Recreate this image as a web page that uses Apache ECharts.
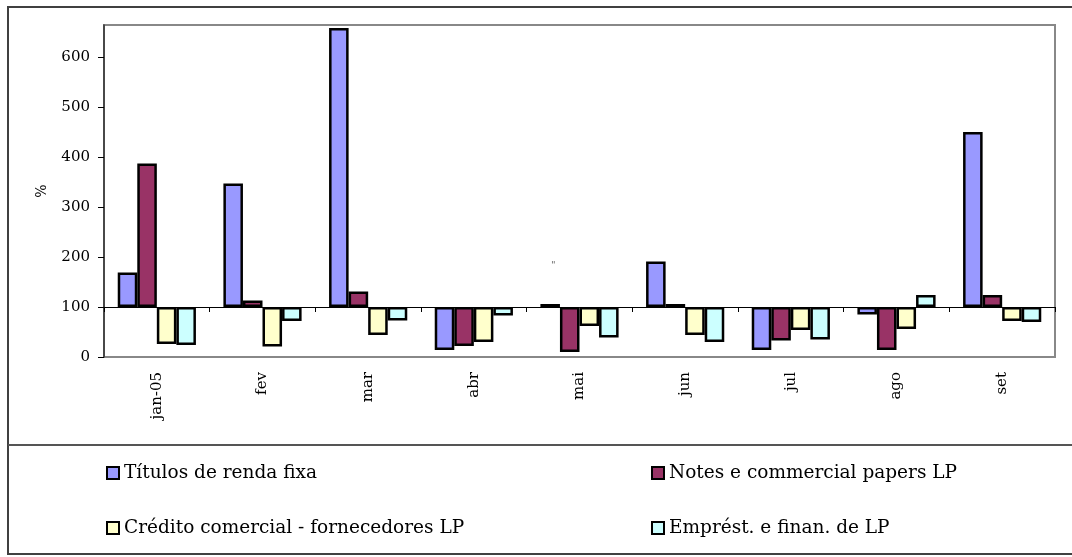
<!DOCTYPE html>
<html>
<head>
<meta charset="utf-8">
<script src="https://cdn.jsdelivr.net/npm/echarts@6/dist/echarts.min.js"></script>
<style>html,body{margin:0;padding:0;background:#fff}#c{width:1072px;height:557px}</style>
</head>
<body>
<div id="c"></div>
<script>
const categories = ['jan-05','fev','mar','abr','mai','jun','jul','ago','set'];
const titulos  = [169, 347, 658, 14, 106, 191, 14, 85, 450];
const notes    = [387, 113, 131, 22, 10, 106, 33, 14, 124];
const credito  = [26, 21, 44, 30, 62, 44, 54, 56, 72];
const emprest  = [24, 72, 73, 83, 39, 30, 35, 124, 70];
const yTicks   = [0, 100, 200, 300, 400, 500, 600];
const baseline = 100;
const seriesNames = ['Títulos de renda fixa','Notes e commercial papers LP','Crédito comercial - fornecedores LP','Emprést. e finan. de LP'];
const seriesData = [titulos, notes, credito, emprest];
const colors = ['#9999FF','#993366','#FFFFCC','#CCFFFF'];

const FONT = 'DejaVu Serif';
const series = [];
seriesData.forEach((vals, i) => {
  const st = 's' + i;
  series.push({
    name: '_base' + i, type: 'bar', stack: st, xAxisIndex: 0,
    barCategoryGap: '26%', barGap: '0%', silent: true,
    itemStyle: { color: 'transparent', borderWidth: 0 },
    data: vals.map(v => Math.min(v, baseline))
  });
  series.push({
    name: seriesNames[i], type: 'bar', stack: st, xAxisIndex: 0,
    barCategoryGap: '26%', barGap: '0%',
    itemStyle: { color: colors[i], borderColor: '#000', borderWidth: 2.5 },
    data: vals.map(v => Math.abs(v - baseline))
  });
});

const legendPos = [[106, 463], [651, 463], [106, 518], [651, 518]];
const legends = seriesNames.map((n, i) => ({
  data: [n], left: legendPos[i][0], top: legendPos[i][1], padding: 0,
  itemWidth: 12, itemHeight: 12, itemGap: 5, icon: 'rect',
  selectedMode: false,
  itemStyle: { borderColor: '#000', borderWidth: 2 },
  textStyle: { fontFamily: FONT, fontSize: 18.5, color: '#000', lineHeight: 20, padding: [0,0,0,0] }
}));

const chart = echarts.init(document.getElementById('c'), null, { renderer: 'canvas' });
chart.setOption({
  animation: false,
  backgroundColor: '#fff',
  grid: { left: 104, right: 17, top: 25, bottom: 200, show: true, borderColor: '#888', borderWidth: 2, backgroundColor: 'transparent' },
  legend: legends,
  xAxis: [{
    type: 'category', data: categories, position: 'bottom',
    axisLine: { show: false, onZero: false }, axisTick: { show: false },
    axisLabel: { rotate: 90, margin: 15, fontFamily: FONT, fontSize: 15, color: '#000' }
  }, {
    type: 'category', data: categories, position: 'top', offset: -282,
    axisLine: { show: true, onZero: false, lineStyle: { color: '#000', width: 1 } },
    axisTick: { show: true, inside: true, length: 5, lineStyle: { color: '#000' } },
    axisLabel: { show: false }
  }],
  yAxis: {
    type: 'value', min: 0, max: 664, interval: 100,
    name: '%', nameLocation: 'middle', nameGap: 55, nameRotate: 90,
    nameTextStyle: { fontFamily: FONT, fontSize: 14, color: '#000' },
    axisLine: { show: true, lineStyle: { color: '#333', width: 1.5 } },
    axisTick: { show: true, length: 6, customValues: yTicks, lineStyle: { color: '#000' } },
    axisLabel: { customValues: yTicks, margin: 14, fontFamily: FONT, fontSize: 15, color: '#000' },
    splitLine: { show: false }
  },
  series: series,
  graphic: [
    { type: 'rect', shape: { x: 8, y: 7, width: 1100, height: 547 }, style: { fill: 'none', stroke: '#404040', lineWidth: 2 }, silent: true },
    { type: 'line', shape: { x1: 8, y1: 445, x2: 1072, y2: 445 }, style: { stroke: '#555', lineWidth: 2 }, silent: true },
    { type: 'text', x: 551, y: 260, style: { text: '"', font: '10px ' + FONT, fill: '#666' }, silent: true }
  ]
});
</script>
</body>
</html>
